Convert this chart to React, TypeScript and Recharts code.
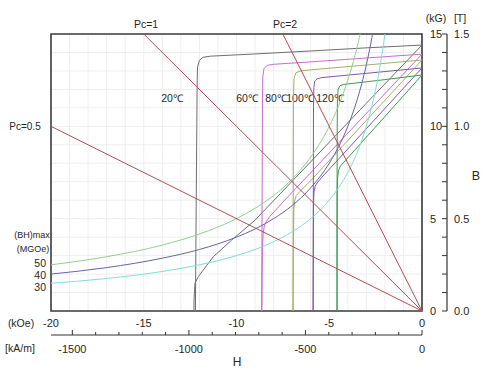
import React from "react";
import { LineChart, Line, XAxis, YAxis, CartesianGrid, ReferenceArea } from "recharts";

const FONT = '"Liberation Sans", Arial, sans-serif';
const INK = "#262626";

// axis ticks
const hTicks = [-20, -15, -10, -5, 0];
const bTicks = [0, 5, 10, 15];
const kamTicks = [-1500, -1400, -1300, -1200, -1100, -1000, -900, -800, -700, -600, -500, -400, -300, -200, -100, 0];
const teslaTicks = [0, 0.1, 0.2, 0.3, 0.4, 0.5, 0.6, 0.7, 0.8, 0.9, 1.0, 1.1, 1.2, 1.3, 1.4, 1.5];
const gridH = [-19, -18, -17, -16, -15, -14, -13, -12, -11, -10, -9, -8, -7, -6, -5, -4, -3, -2, -1];
const gridB = [1, 2, 3, 4, 5, 6, 7, 8, 9, 10, 11, 12, 13, 14];

// intrinsic (J-H) curves, [H kOe, J kG]
const j20 = [[0, 14.4], [-3, 14.25], [-6, 14.08], [-9, 13.92], [-11.4, 13.8], [-11.8, 13.74], [-12.0, 13.58], [-12.1, 13.2], [-12.12, 12.4], [-12.14, 10], [-12.17, 6], [-12.2, 2], [-12.22, -1]];
const j60 = [[0, 13.91], [-3, 13.7], [-6, 13.49], [-8.0, 13.36], [-8.35, 13.3], [-8.52, 13.12], [-8.58, 12.7], [-8.6, 11.5], [-8.62, 6], [-8.64, 0], [-8.65, -1]];
const j80 = [[0, 13.59], [-3, 13.32], [-6, 13.06], [-6.55, 13.0], [-6.8, 12.9], [-6.9, 12.6], [-6.93, 11.5], [-6.94, 6], [-6.95, 0], [-6.95, -1]];
const j100 = [[0, 13.16], [-3, 12.87], [-5.4, 12.64], [-5.65, 12.58], [-5.78, 12.45], [-5.83, 12.1], [-5.85, 11], [-5.86, 6], [-5.87, 0], [-5.87, -1]];
const j120 = [[0, 12.78], [-2, 12.53], [-4.2, 12.27], [-4.42, 12.2], [-4.52, 12.0], [-4.56, 11.5], [-4.57, 10], [-4.58, 6], [-4.58, 0], [-4.58, -1]];

// normal (B-H) curves, [H kOe, B kG]
const b20 = [[0, 14.4], [-3, 11.25], [-6, 8.08], [-9, 4.92], [-10.26, 3.84], [-11.25, 2.94], [-11.79, 2.22], [-12.06, 1.86], [-12.24, 1.5], [-12.29, 0.6], [-12.3, -1]];
const b60 = [[0, 13.91], [-3, 10.7], [-6, 7.49], [-7.5, 5.9], [-8.2, 5.12], [-8.41, 4.82], [-8.5, 4.6], [-8.56, 4.2], [-8.6, 3.5], [-8.62, 2], [-8.64, 0], [-8.65, -1]];
const b80 = [[0, 13.59], [-3, 10.32], [-6, 7.06], [-6.6, 6.45], [-6.78, 6.25], [-6.86, 6.0], [-6.91, 5.5], [-6.94, 3], [-6.95, 0], [-6.95, -1]];
const b100 = [[0, 13.16], [-3, 9.87], [-5.4, 7.24], [-5.66, 6.93], [-5.76, 6.75], [-5.82, 6.45], [-5.85, 5.8], [-5.86, 3], [-5.87, 0], [-5.87, -1]];
const b120 = [[0, 12.78], [-2, 10.53], [-4.2, 8.07], [-4.4, 7.84], [-4.5, 7.62], [-4.55, 7.2], [-4.57, 6.5], [-4.58, 3], [-4.58, 0], [-4.58, -1]];

// (BH)max iso-energy curves, [H kOe, B kG]
const bh50 = [[-20, 2.5], [-17, 2.94], [-14, 3.57], [-12, 4.17], [-10, 5], [-9, 5.56], [-8, 6.25], [-7, 7.14], [-6, 8.33], [-5.5, 9.09], [-5, 10], [-4.5, 11.11], [-4, 12.5], [-3.6, 13.89], [-3.3, 15.15], [-3.1, 16.13]];
const bh40 = [[-20, 2], [-17, 2.35], [-14, 2.86], [-12, 3.33], [-10, 4], [-9, 4.44], [-8, 5], [-7, 5.71], [-6, 6.67], [-5, 8], [-4.5, 8.89], [-4, 10], [-3.5, 11.43], [-3, 13.33], [-2.7, 14.81], [-2.5, 16]];
const bh30 = [[-20, 1.5], [-17, 1.76], [-14, 2.14], [-12, 2.5], [-10, 3], [-8, 3.75], [-7, 4.29], [-6, 5], [-5, 6], [-4.5, 6.67], [-4, 7.5], [-3.5, 8.57], [-3, 10], [-2.6, 11.54], [-2.3, 13.04], [-2, 15], [-1.85, 16.2]];

// load lines (permeance coefficient)
const pc2 = [[0, 0], [-8.5, 17]];
const pc1 = [[0, 0], [-17, 17]];
const pc05 = [[0, 0], [-20, 10]];

const C20 = "#6e6e6e";
const C60 = "#c76ccb";
const C80 = "#a9ad62";
const C100 = "#7d5aa8";
const C120 = "#3f9a4c";
const RED = "#b44a55";

const rows = (pts: number[][]) => pts.map(([h, b]) => ({ h, b }));

const curves = [
  { key: "j20", pts: j20, color: C20, type: "linear" },
  { key: "b20", pts: b20, color: C20, type: "linear" },
  { key: "j60", pts: j60, color: C60, type: "linear" },
  { key: "b60", pts: b60, color: C60, type: "linear" },
  { key: "j80", pts: j80, color: C80, type: "linear" },
  { key: "b80", pts: b80, color: C80, type: "linear" },
  { key: "j100", pts: j100, color: C100, type: "linear" },
  { key: "b100", pts: b100, color: C100, type: "linear" },
  { key: "j120", pts: j120, color: C120, type: "linear" },
  { key: "b120", pts: b120, color: C120, type: "linear" },
  { key: "bh50", pts: bh50, color: "#8fd28a", type: "monotone" },
  { key: "bh40", pts: bh40, color: "#6464ac", type: "monotone" },
  { key: "bh30", pts: bh30, color: "#7fded6", type: "monotone" },
  { key: "pc2", pts: pc2, color: RED, type: "linear" },
  { key: "pc1", pts: pc1, color: RED, type: "linear" },
  { key: "pc05", pts: pc05, color: RED, type: "linear" },
];

const txt = { fontFamily: FONT, fill: INK };

function KoeTick({ x, y, payload }: any) {
  return (
    <text x={x} y={y + 16} textAnchor="middle" fontSize={11} {...txt}>
      {payload.value}
    </text>
  );
}

function KamTick({ x, y, payload }: any) {
  const major = Math.abs(payload.value) % 500 === 0;
  return (
    <g>
      <line x1={x} x2={x} y1={y} y2={y - (major ? 5 : 3)} stroke="#333" />
      {major && (
        <text x={x} y={y + 18} textAnchor="middle" fontSize={11} {...txt}>
          {payload.value}
        </text>
      )}
    </g>
  );
}

function KgTick({ x, y, payload }: any) {
  return (
    <text x={x + 8} y={y + 4} textAnchor="start" fontSize={11} {...txt}>
      {payload.value}
    </text>
  );
}

function TeslaTick({ x, y, payload }: any) {
  const v = payload.value;
  const major = Math.abs(v * 2 - Math.round(v * 2)) < 1e-6;
  return (
    <g>
      <line x1={x - 5} x2={x} y1={y} y2={y} stroke="#333" />
      {major && (
        <text x={x + 7} y={y + 4} textAnchor="start" fontSize={11} {...txt}>
          {v.toFixed(1)}
        </text>
      )}
    </g>
  );
}

export default function App() {
  return (
    <div style={{ position: "absolute", left: 0, top: 0, width: 484, height: 370, background: "#fff" }}>
      <LineChart width={484} height={370} margin={{ top: 34, right: 0, bottom: 13, left: 51 }}>
        <CartesianGrid
          xAxisId="x1"
          yAxisId="y1"
          stroke="#eeeeee"
          verticalValues={gridH}
          horizontalValues={gridB}
        />
        <XAxis
          xAxisId="x1"
          dataKey="h"
          type="number"
          domain={[-20, 0]}
          ticks={hTicks}
          interval={0}
          allowDataOverflow
          height={24}
          axisLine={false}
          tickLine={false}
          tickSize={0}
          tickMargin={0}
          tick={<KoeTick />}
        />
        <XAxis
          xAxisId="x2"
          dataKey="h"
          type="number"
          domain={[-1591.55, 0]}
          ticks={kamTicks}
          interval={0}
          allowDataOverflow
          height={22}
          axisLine={{ stroke: "#333", strokeWidth: 1.2 }}
          tickLine={false}
          tickSize={0}
          tickMargin={0}
          tick={<KamTick />}
        />
        <YAxis
          yAxisId="y1"
          orientation="right"
          type="number"
          domain={[0, 15]}
          ticks={bTicks}
          interval={0}
          allowDataOverflow
          width={25}
          axisLine={false}
          tickLine={false}
          tickSize={0}
          tickMargin={0}
          tick={<KgTick />}
        />
        <YAxis
          yAxisId="y2"
          orientation="right"
          type="number"
          domain={[0, 1.5]}
          ticks={teslaTicks}
          interval={0}
          allowDataOverflow
          width={37}
          axisLine={{ stroke: "#333", strokeWidth: 1.2 }}
          tickLine={false}
          tickSize={0}
          tickMargin={0}
          tick={<TeslaTick />}
        />
        {curves.map((c) => (
          <Line
            key={c.key}
            xAxisId="x1"
            yAxisId="y1"
            data={rows(c.pts)}
            dataKey="b"
            type={c.type as any}
            stroke={c.color}
            strokeWidth={1}
            dot={false}
            activeDot={false}
            isAnimationActive={false}
          />
        ))}
        <ReferenceArea
          xAxisId="x1"
          yAxisId="y1"
          x1={-20}
          x2={0}
          y1={0}
          y2={15}
          fill="none"
          fillOpacity={0}
          stroke="#3a3a3a"
          strokeWidth={1.6}
        />
        <text x={146} y={28} textAnchor="middle" fontSize={10.5} {...txt}>Pc=1</text>
        <text x={285} y={28} textAnchor="middle" fontSize={10.5} {...txt}>Pc=2</text>
        <text x={25} y={130} textAnchor="middle" fontSize={10} {...txt}>Pc=0.5</text>
        <text x={436} y={21.5} textAnchor="middle" fontSize={10.5} {...txt}>(kG)</text>
        <text x={460} y={21.5} textAnchor="middle" fontSize={10.5} {...txt}>[T]</text>
        <text x={476} y={180} textAnchor="middle" fontSize={12.5} {...txt}>B</text>
        <text x={172} y={101.5} textAnchor="middle" fontSize={10.5} {...txt}>20℃</text>
        <text x={247} y={101.5} textAnchor="middle" fontSize={10.5} {...txt}>60℃</text>
        <text x={276} y={101.5} textAnchor="middle" fontSize={10.5} {...txt}>80℃</text>
        <text x={300} y={101.5} textAnchor="middle" fontSize={10.5} {...txt}>100℃</text>
        <text x={330} y={101.5} textAnchor="middle" fontSize={10.5} {...txt}>120℃</text>
        <text x={32} y={238} textAnchor="middle" fontSize={9} {...txt}>(BH)max</text>
        <text x={33} y={252} textAnchor="middle" fontSize={9} {...txt}>(MGOe)</text>
        <text x={46} y={267} textAnchor="end" fontSize={10.5} {...txt}>50</text>
        <text x={46} y={279} textAnchor="end" fontSize={10.5} {...txt}>40</text>
        <text x={46} y={291} textAnchor="end" fontSize={10.5} {...txt}>30</text>
        <text x={21} y={327} textAnchor="middle" fontSize={10.5} {...txt}>(kOe)</text>
        <text x={20} y={352} textAnchor="middle" fontSize={10.5} {...txt}>[kA/m]</text>
        <text x={237} y={366} textAnchor="middle" fontSize={12} {...txt}>H</text>
      </LineChart>
    </div>
  );
}
